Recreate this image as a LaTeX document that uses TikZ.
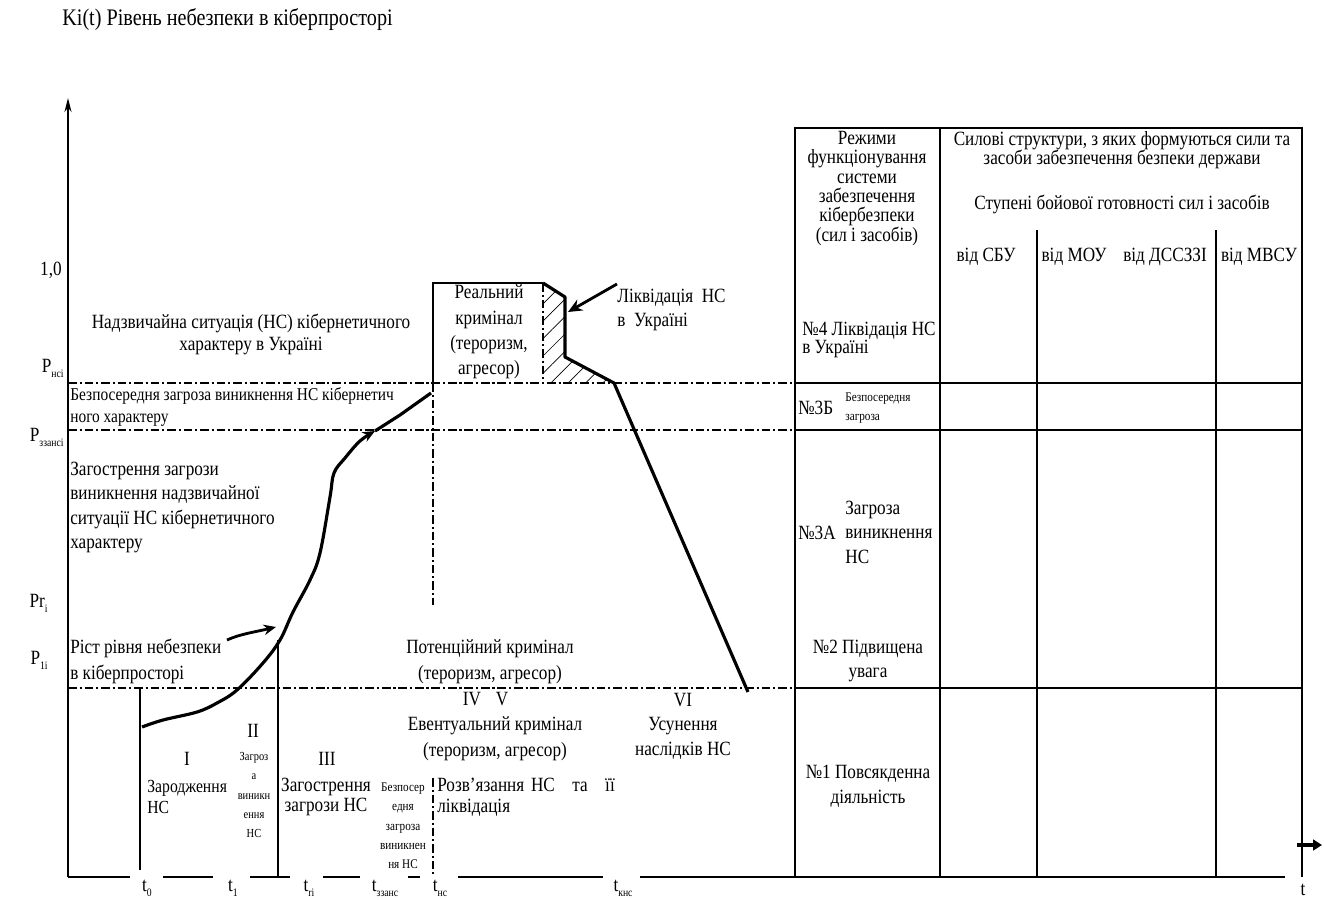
\documentclass[tikz,border=0pt]{standalone}
\usepackage{fontspec}
\setmainfont{Liberation Serif}[FakeStretch=0.85]
\usetikzlibrary{arrows.meta,patterns.meta}
\newcommand\lowsub[1]{\raisebox{-0.55ex}{\fontsize{6.5}{7}\selectfont #1}}
\tikzset{
  ctext/.style={font=\fontsize{11.5}{#1}\selectfont, inner sep=0pt, align=center},
  ctext/.default=13,
  ltext/.style={font=\fontsize{11.5}{#1}\selectfont, inner sep=0pt, align=left, anchor=west},
  ltext/.default=13,
  stext/.style={font=\fontsize{7.5}{#1}\selectfont, inner sep=0pt, align=center},
  stext/.default=11,
  gridline/.style={line width=0.7pt},
  dashdot/.style={line width=0.7pt, dash pattern=on 5pt off 1.6pt on 1.2pt off 1.6pt},
  boldline/.style={line width=1.8pt, line join=round},
  axisline/.style={line width=0.8pt},
}
\begin{document}
\begin{tikzpicture}[x=0.02cm,y=-0.02cm]
\useasboundingbox (0,0) rectangle (1324,899);
% title
\node[ltext,font=\fontsize{13.5}{15}\selectfont] (title) at (62,20) {Ki(t) Рівень небезпеки в кіберпросторі};
% y axis
\coordinate (yb) at (68,877);
\coordinate (yt) at (68,98);
\draw[axisline,-{Stealth[length=8pt,width=4pt]}] (yb) -- (yt);
% y labels
\node[ctext,anchor=east] (one) at (62,270) {1,0};
\node[ctext,anchor=east] (pnsi) at (64,368) {P\lowsub{нсі}};
\node[ctext,anchor=east] (pzz) at (64,437) {P\lowsub{ззансі}};
\node[ctext,anchor=east] (pri) at (48,603) {Pr\lowsub{i}};
\node[ctext,anchor=east] (p1i) at (48,660) {P\lowsub{1i}};
% horizontal dash-dot levels
\draw[dashdot] (68,383) -- (795,383);
\draw[dashdot] (68,430) -- (795,430);
\draw[dashdot] (68,688) -- (795,688);
% table
\draw[gridline] (795,877) -- (795,128) -- (1302,128) -- (1302,877);
\draw[gridline] (940,128) -- (940,877);
\draw[gridline] (1037,230) -- (1037,877);
\draw[gridline] (1216,230) -- (1216,877);
\draw[gridline] (795,383) -- (1302,383);
\draw[gridline] (795,430) -- (1302,430);
\draw[gridline] (795,688) -- (1302,688);
% bottom axis segments
\draw[axisline] (68,877) -- (130,877);
\draw[axisline] (163,877) -- (213,877);
\draw[axisline] (250,877) -- (290,877);
\draw[axisline] (323,877) -- (360,877);
\draw[axisline] (408,877) -- (420,877);
\draw[axisline] (458,877) -- (603,877);
\draw[axisline] (640,877) -- (1285,877);
\draw[line width=2pt,-{Triangle[length=5pt,width=6pt]}] (1297,845) -- (1322,845);
% t labels
\node[ctext,anchor=base] (t0) at (147,891) {t\lowsub{0}};
\node[ctext,anchor=base] (t1) at (233,891) {t\lowsub{1}};
\node[ctext,anchor=base] (tri) at (309,891) {t\lowsub{ri}};
\node[ctext,anchor=base] (tzz) at (385,891) {t\lowsub{ззанс}};
\node[ctext,anchor=base] (tns) at (440,891) {t\lowsub{нс}};
\node[ctext,anchor=base] (tkns) at (623,891) {t\lowsub{кнс}};
\node[ctext,anchor=base] (tt) at (1303,895) {t};
% vertical lines
\draw[gridline] (140,688) -- (140,870);
\draw[gridline] (278,640) -- (278,877);
\draw[dashdot] (433,383) -- (433,605);
\draw[dashdot] (433,778) -- (433,877);
\draw[dashdot] (543,283) -- (543,383);
% real criminal box and hatch
\fill[pattern={Lines[angle=45,distance=7pt,line width=0.4pt]}] (543,283) -- (565,297) -- (565,357) -- (612,383) -- (543,383) -- cycle;
\draw[gridline] (433,383) -- (433,283) -- (543,283);
\draw[boldline] (543,283) -- (565,297) -- (565,357) -- (614,383) -- (748,692);
% curve
\draw[boldline,-{Stealth[length=7pt,width=6pt]}] plot[smooth,tension=0.6] coordinates {(142,727) (163,720) (197,712) (217,703) (237,690) (263,663) (280,640) (293,612) (310,580) (320,553) (330,497) (334,473) (345,458) (360,441) (375,431)};
\draw[boldline] (375,431) -- (400,415) -- (431,393);
% arrows
\coordinate (ra) at (227,640);
\coordinate (rb) at (276,627);
\draw[line width=1.6pt,-{Stealth[length=7pt,width=6pt]}] (ra) .. controls (240,634) and (255,632) .. (rb);
\coordinate (la) at (617,284);
\coordinate (lb) at (568,312);
\draw[line width=1.6pt,-{Stealth[length=8pt,width=7pt]}] (la) -- (lb);
% left texts
\node[ctext=12.5] (ns) at (251,334) {Надзвичайна ситуація (НС) кібернетичного\\характеру в Україні};
\node[ltext=12,font=\fontsize{10.3}{12}\selectfont] (bz) at (70,407) {Безпосередня загроза виникнення НС кібернетич\\ного характеру};
\node[ltext=14] (zg) at (70,507.5) {Загострення загрози\\виникнення надзвичайної\\ситуації НС кібернетичного\\характеру};
\node[ltext=15] (rist) at (70,661.5) {Ріст рівня небезпеки\\в кіберпросторі};
\node[ctext=15] (pot) at (490,661.5) {Потенційний кримінал\\(тероризм, агресор)};
\node[ctext,anchor=base] (iv) at (472,705) {IV};
\node[ctext,anchor=base] (v) at (502,705) {V};
\node[ctext=15] (ev) at (495,738.5) {Евентуальний кримінал\\(тероризм, агресор)};
\node[ctext=14] (vi) at (683,726) {VI\\Усунення\\наслідків НС};
\node[ctext,anchor=base] (s1) at (187,765) {I};
\node[ltext=11.5,font=\fontsize{10.5}{11.5}\selectfont] (s1t) at (147,797) {Зародження\\НС};
\node[ctext,anchor=base] (s2) at (253,737) {II};
\node[stext=11,font=\fontsize{7}{11}\selectfont] (s2t) at (254,795) {Загроз\\а\\виникн\\ення\\НС};
\node[ctext,anchor=base] (s3) at (327,765) {III};
\node[ctext=11.5] (s3t) at (326,797) {Загострення\\загрози НС};
\node[stext=11] (s4t) at (403,826) {Безпосер\\едня\\загроза\\виникнен\\ня НС};
\node[ctext,anchor=base west] (rz1) at (437,791) {Розв'язання};
\node[ctext,anchor=base] (rz2) at (543,791) {НС};
\node[ctext,anchor=base] (rz3) at (580,791) {та};
\node[ctext,anchor=base] (rz4) at (610,791) {її};
\node[ctext,anchor=base west] (rz5) at (437,812) {ліквідація};
\node[ctext=14.5] (real) at (489,332) {Реальний\\кримінал\\(тероризм,\\агресор)};
\node[ltext=13.5] (liq) at (617,310) {Ліквідація\ \ НС\\в\ \ Україні};
% table texts
\node[ctext=11] (rm) at (867,188.5) {Режими\\функціонування\\системи\\забезпечення\\кібербезпеки\\(сил і засобів)};
\node[ctext=11] (ss) at (1122,150) {Силові структури, з яких формуються сили та\\засоби забезпечення безпеки держави};
\node[ctext] (st) at (1122,204) {Ступені бойової готовності сил і засобів};
\node[ctext] (sbu) at (986,257) {від СБУ};
\node[ctext] (mou) at (1074,257) {від МОУ};
\node[ctext] (dss) at (1165,257) {від ДССЗЗІ};
\node[ctext] (mvs) at (1259,257) {від МВСУ};
\node[ltext=10.5] (m4) at (802,340) {№4 Ліквідація НС\\в Україні};
\node[ltext] (m3b) at (798,408) {№3Б};
\node[stext=11,align=left,anchor=west] (m3bt) at (845,408) {Безпосередня\\загроза};
\node[ltext] (m3a) at (798,533) {№3А};
\node[ltext=14] (m3at) at (845,532) {Загроза\\виникнення\\НС};
\node[ctext=14] (m2) at (868,661) {№2 Підвищена\\увага};
\node[ctext=14] (m1) at (868,786) {№1 Повсякденна\\діяльність};
\end{tikzpicture}
\end{document}
